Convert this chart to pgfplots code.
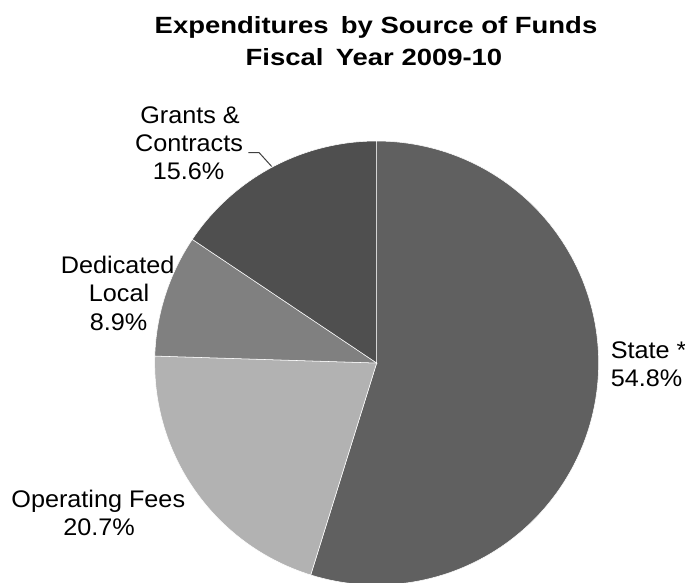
\documentclass[border=0pt]{standalone}
\usepackage{pgfplots}
\pgfplotsset{compat=1.18}
\usepgfplotslibrary{polar}
\usepackage{pgfplotstable}
\usepackage{fontspec}
\setmainfont{Liberation Sans}
\newfontfamily\lblfont[FakeStretch=1.05]{Liberation Sans}
\newfontfamily\ttlfont[FakeStretch=1.17]{Liberation Sans}

\definecolor{cState}{HTML}{606060}
\definecolor{cFees}{HTML}{B2B2B2}
\definecolor{cLocal}{HTML}{808080}
\definecolor{cGrants}{HTML}{4F4F4F}

% share of expenditures, percent, clockwise from 12 o'clock
\pgfplotstableread{
source share
State  54.8
Fees   20.7
Local  8.9
Grants 15.6
}\piedata

\begin{document}
\begin{tikzpicture}
\pgfplotstablegetelem{0}{share}\of\piedata \pgfmathsetmacro\aA{90-3.6*\pgfplotsretval}
\pgfplotstablegetelem{1}{share}\of\piedata \pgfmathsetmacro\aB{\aA-3.6*\pgfplotsretval}
\pgfplotstablegetelem{2}{share}\of\piedata \pgfmathsetmacro\aC{\aB-3.6*\pgfplotsretval}
\pgfplotstablegetelem{3}{share}\of\piedata \pgfmathsetmacro\aD{\aC-3.6*\pgfplotsretval}

\begin{polaraxis}[
    at={(282.5pt,-272.25pt)}, anchor=center,
    scale only axis, width=333pt, height=333pt,
    hide axis,
    xmin=0, xmax=360, ymin=0, ymax=1,
    clip=false,
    samples=120,
]
\addplot[fill=cState, draw=white, line width=0.4pt, domain=\aA:90] {1} -- (axis cs:0,0) -- cycle;
\addplot[fill=cFees, draw=white, line width=0.4pt, domain=\aB:\aA] {1} -- (axis cs:0,0) -- cycle;
\addplot[fill=cLocal, draw=white, line width=0.4pt, domain=\aC:\aB] {1} -- (axis cs:0,0) -- cycle;
\addplot[fill=cGrants, draw=white, line width=0.4pt, domain=\aD:\aC] {1} -- (axis cs:0,0) -- cycle;
\end{polaraxis}

\begin{scope}[x=0.75pt, y=-0.75pt,
    lbl/.style={font=\lblfont\fontsize{18}{21}\selectfont, anchor=base, inner sep=0pt},
    ttl/.style={font=\ttlfont\bfseries\fontsize{17.6}{20}\selectfont, anchor=base, inner sep=0pt}]
\node[ttl] at (376,33.5) {Expenditures\hspace{0.2em} by Source of Funds};
\node[ttl] at (374,65) {Fiscal\hspace{0.2em} Year 2009-10};

\node[lbl] at (190,123.3) {Grants \&};
\node[lbl] at (189,151.7) {Contracts};
\node[lbl] at (188.5,179) {15.6\%};
\draw[black!75, line width=0.75pt] (248.3,152.5) -- (259,152.5) -- (271.7,166.5);

\node[lbl] at (117.7,273.3) {Dedicated};
\node[lbl] at (119,301.7) {Local};
\node[lbl] at (118.5,330.7) {8.9\%};

\node[lbl, anchor=base west] at (610.5,358.3) {State *};
\node[lbl, anchor=base west] at (610.5,386.7) {54.8\%};

\node[lbl] at (98.3,507.3) {Operating Fees};
\node[lbl] at (99,535) {20.7\%};
\end{scope}

\pgfresetboundingbox
\path[use as bounding box] (0,0) rectangle (513.75pt,-436.5pt);
\end{tikzpicture}
\end{document}
